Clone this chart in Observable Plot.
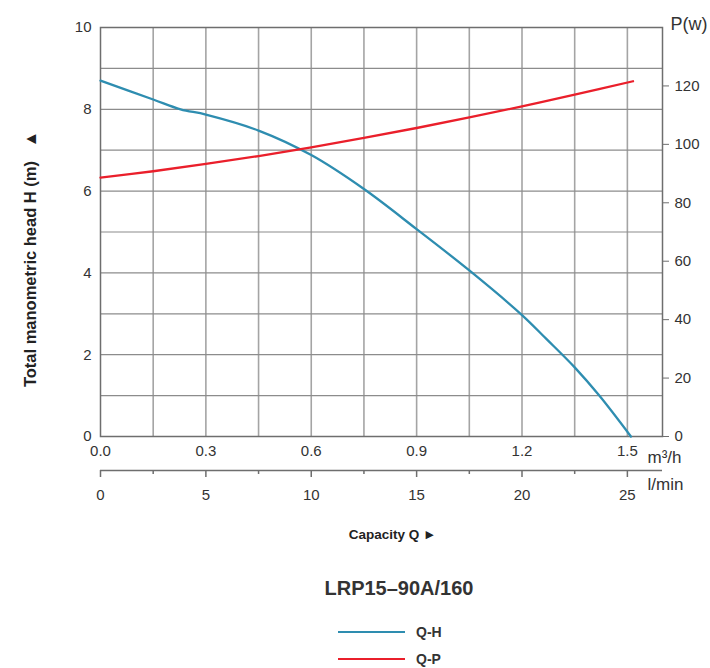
<!DOCTYPE html>
<html><head><meta charset="utf-8">
<script src="https://cdn.jsdelivr.net/npm/d3@7"></script>
<script src="https://cdn.jsdelivr.net/npm/@observablehq/plot@0.6"></script>
<style>
body{margin:0;background:#fff;font-family:"Liberation Sans",Arial,sans-serif;color:#333;}
#wrap{position:relative;width:710px;height:668px;overflow:hidden;}
#title{position:absolute;left:0;width:798px;top:577px;text-align:center;font-weight:bold;font-size:20px;color:#333;}
.leg{position:absolute;left:338px;height:20px;display:flex;align-items:center;font-weight:bold;font-size:14px;color:#333;}
.leg span.l{display:inline-block;width:67px;height:2px;margin-right:11px;}
</style></head><body>
<div id="wrap"><div id="chart"></div>
<div id="title">LRP15–90A/160</div>
<div class="leg" style="top:622px"><span class="l" id="lh"></span>Q-H</div>
<div class="leg" style="top:649px"><span class="l" id="lp"></span>Q-P</div>
</div>
<script>
// Q-H curve (capacity m3/h -> head m)
const qH = [0, 0.15, 0.228, 0.3, 0.45, 0.6, 0.75, 0.9, 1.05, 1.2, 1.27, 1.35, 1.42, 1.51];
const headH = [8.70, 8.24, 8.0, 7.87, 7.48, 6.88, 6.05, 5.07, 4.06, 2.97, 2.38, 1.69, 1.0, 0];
// Q-P curve (capacity m3/h -> power W)
const qP = [0, 0.15, 0.3, 0.45, 0.6, 0.75, 0.9, 1.05, 1.2, 1.35, 1.516];
const powerP = [88.6, 90.8, 93.3, 96.0, 99.0, 102.2, 105.6, 109.2, 113.0, 117.0, 121.6];
// ticks
const hTicks = [0, 2, 4, 6, 8, 10];
const pTicks = [0, 20, 40, 60, 80, 100, 120];
const qTicks = [0, 0.3, 0.6, 0.9, 1.2, 1.5];
const lminTicks = [0, 5, 10, 15, 20, 25];
const lminMinor = [2.5, 7.5, 12.5, 17.5, 22.5];
const gridQ = [0.15, 0.3, 0.45, 0.6, 0.75, 0.9, 1.05, 1.2, 1.35, 1.5];
const gridH = [1, 2, 3, 4, 5, 6, 7, 8, 9];
const P_PER_M = 14;          // 140 W at the top of the 10 m axis
const LMIN_PER_M3H = 1000 / 60;

const blue = "#2e8db0", red = "#ea1f2b";
document.getElementById("lh").style.background = blue;
document.getElementById("lp").style.background = red;

const hData = qH.map((q, i) => ({q, v: headH[i]}));
const pData = qP.map((q, i) => ({q, v: powerP[i] / P_PER_M}));

const chart = Plot.plot({
  width: 710, height: 560,
  marginLeft: 100, marginRight: 48, marginTop: 27, marginBottom: 124,
  x: {domain: [0, 1.6]},
  y: {domain: [0, 10]},
  style: {fontFamily: "'Liberation Sans', Arial, sans-serif", fontSize: "15px", color: "#333", background: "#fff"},
  marks: [
    Plot.ruleX(gridQ, {stroke: "#a4a4a4", strokeWidth: 1.6}),
    Plot.ruleY(gridH, {stroke: "#8c8c8c", strokeWidth: 1.2}),
    Plot.frame({stroke: "#6e6e6e", strokeWidth: 1.5}),
    Plot.axisY(hTicks, {anchor: "left", tickSize: 0, tickPadding: 9, label: null, fontSize: 15}),
    Plot.axisY(pTicks.map(p => p / P_PER_M), {anchor: "right", tickSize: 6, tickPadding: 6, stroke: "#6e6e6e", label: null,
      tickFormat: d => String(Math.round(d * P_PER_M)), fontSize: 15}),
    Plot.axisX(qTicks, {anchor: "bottom", tickSize: 0, tickPadding: 9, label: null, tickFormat: d3.format(".1f"), fontSize: 15}),
    Plot.ruleY([0], {dy: 34, stroke: "#6e6e6e", strokeWidth: 1.5}),
    Plot.axisX(lminTicks.map(v => v / LMIN_PER_M3H), {anchor: "bottom", dy: 34, tickSize: 7, tickPadding: 12, stroke: "#6e6e6e", strokeWidth: 1.5, label: null,
      tickFormat: d => String(Math.round(d * LMIN_PER_M3H)), fontSize: 15}),
    Plot.axisX(lminMinor.map(v => v / LMIN_PER_M3H), {anchor: "bottom", dy: 34, tickSize: 4, stroke: "#6e6e6e", strokeWidth: 1.5, label: null, tickFormat: () => ""}),
    Plot.line(hData, {x: "q", y: "v", stroke: blue, strokeWidth: 2.3, curve: "catmull-rom"}),
    Plot.line(pData, {x: "q", y: "v", stroke: red, strokeWidth: 2.3, curve: "catmull-rom"}),
    Plot.text(["P(w)"], {frameAnchor: "top-right", textAnchor: "start", dx: 8, dy: -10, fontSize: 18, fill: "#333"}),
    Plot.text(["m³/h"], {frameAnchor: "bottom-right", textAnchor: "start", dx: -15, dy: 26, fontSize: 17, fill: "#333"}),
    Plot.text(["l/min"], {frameAnchor: "bottom-right", textAnchor: "start", dx: -15, dy: 53, fontSize: 17, fill: "#333"}),
    Plot.text(["Capacity Q ►"], {frameAnchor: "bottom", dx: 11, dy: 102, fontSize: 13.5, fontWeight: "bold", fill: "#222"}),
    Plot.text(["Total manometric head H (m)   ▲"], {frameAnchor: "left", textAnchor: "middle", dx: -70, dy: 27, rotate: -90, fontSize: 16.5, fontWeight: "bold", fill: "#222"})
  ]
});
document.getElementById("chart").appendChild(chart);
</script>
</body></html>
